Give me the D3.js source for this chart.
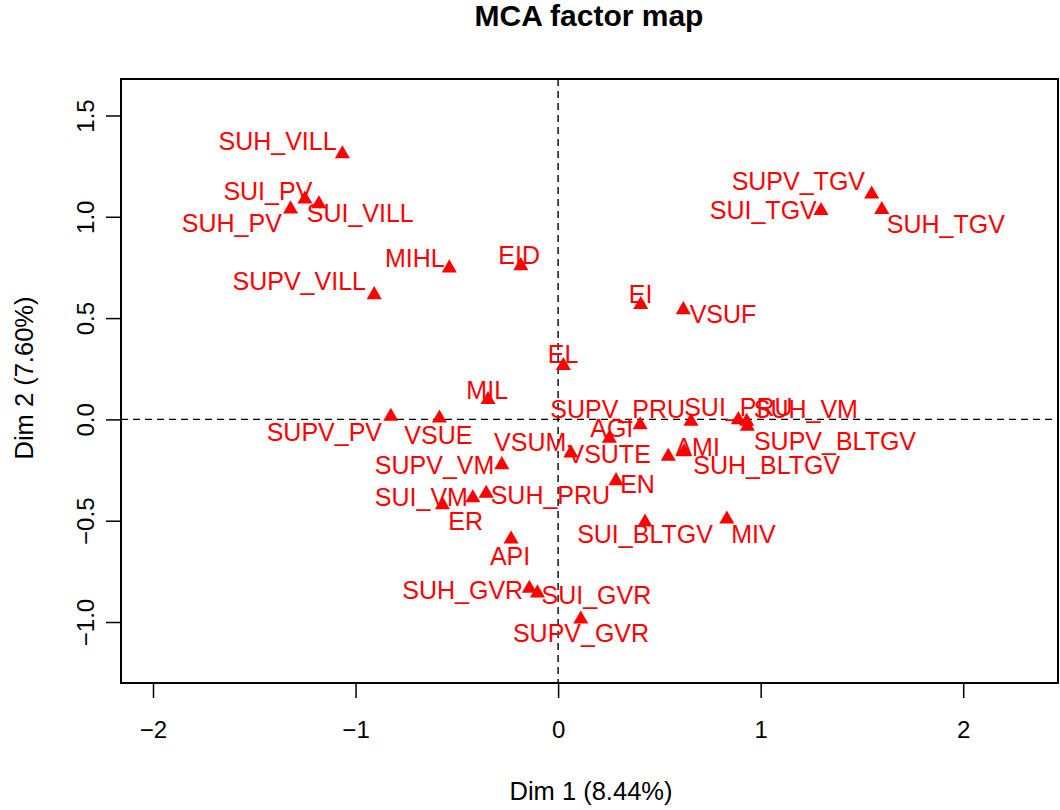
<!DOCTYPE html>
<html>
<head>
<meta charset="utf-8">
<script src="https://cdn.jsdelivr.net/npm/d3@7"></script>
<style>
  html, body { margin: 0; padding: 0; background: #fff; }
  svg { display: block; font-family: "Liberation Sans", Arial, Helvetica, sans-serif; }
</style>
</head>
<body>
<svg id="chart" width="1060" height="810"></svg>
<script>
// MCA category coordinates on the first two dimensions
const categories = [
  "SUH_VILL", "SUI_PV", "SUI_VILL", "SUH_PV", "SUPV_VILL", "MIHL", "EID", "EI", "VSUF", "EL",
  "MIL", "SUPV_PV", "VSUE", "SUPV_VM", "SUI_VM", "ER", "SUH_PRU", "API", "SUH_GVR", "SUI_GVR",
  "SUPV_GVR", "SUI_BLTGV", "VSUM", "AGI", "SUPV_PRU", "VSUTE", "AMI", "SUI_PRU", "SUH_BLTGV", "SUH_VM",
  "SUPV_BLTGV", "EN", "MIV", "SUPV_TGV", "SUI_TGV", "SUH_TGV"
];
const dim1 = [
  -1.065, -1.250, -1.181, -1.321, -0.908, -0.537, -0.184, 0.408, 0.618, 0.026,
  -0.346, -0.826, -0.586, -0.278, -0.571, -0.421, -0.355, -0.232, -0.142, -0.102,
  0.112, 0.429, 0.063, 0.253, 0.405, 0.544, 0.622, 0.656, 0.890, 0.931,
  0.934, 0.286, 0.833, 1.548, 1.298, 1.598
];
const dim2 = [
  1.310, 1.087, 1.063, 1.038, 0.615, 0.747, 0.758, 0.566, 0.541, 0.265,
  0.097, 0.015, 0.006, -0.224, -0.422, -0.388, -0.365, -0.591, -0.834, -0.857,
  -0.986, -0.507, -0.166, -0.094, -0.027, -0.183, -0.160, -0.010, -0.002, -0.010,
  -0.035, -0.303, -0.492, 1.112, 1.030, 1.035
];
// Label anchors (text centres) after overlap avoidance, in the same units
const labelDim1 = [
  -1.385, -1.433, -0.977, -1.611, -1.278, -0.707, -0.192, 0.407, 0.814, 0.025,
  -0.350, -1.154, -0.591, -0.610, -0.675, -0.456, -0.038, -0.237, -0.471, 0.189,
  0.113, 0.429, -0.138, 0.265, 0.294, 0.252, 0.689, 0.890, 1.030, 1.223,
  1.367, 0.392, 0.964, 1.186, 1.013, 1.914
];
const labelDim2 = [
  1.373, 1.127, 1.018, 0.971, 0.685, 0.796, 0.812, 0.618, 0.522, 0.324,
  0.147, -0.061, -0.076, -0.224, -0.384, -0.502, -0.372, -0.675, -0.844, -0.866,
  -1.054, -0.566, -0.112, -0.043, 0.052, -0.171, -0.135, 0.059, -0.226, 0.050,
  -0.105, -0.319, -0.566, 1.175, 1.031, 0.964
];

const xTicks = [-2, -1, 0, 1, 2];
const yTicks = [-1.0, -0.5, 0.0, 0.5, 1.0, 1.5];
const xDomain = [-2.158, 2.468];
const yDomain = [-1.301, 1.680];

const titleText = "MCA factor map";
const xTitle = "Dim 1 (8.44%)";
const yTitle = "Dim 2 (7.60%)";

const svg = d3.select("#chart");
const box = { left: 121, right: 1058, top: 79, bottom: 683 };

const x = d3.scaleLinear().domain(xDomain).range([box.left, box.right]);
const y = d3.scaleLinear().domain(yDomain).range([box.bottom, box.top]);

const points = categories.map((name, i) => ({
  name, d1: dim1[i], d2: dim2[i], l1: labelDim1[i], l2: labelDim2[i]
}));

// Reference lines through the origin
const refs = svg.append("g").attr("stroke", "#000").attr("stroke-width", 1.4)
  .attr("stroke-dasharray", "7,5").attr("fill", "none");
refs.append("line").attr("x1", box.left).attr("x2", box.right).attr("y1", y(0)).attr("y2", y(0));
refs.append("line").attr("x1", x(0)).attr("x2", x(0)).attr("y1", box.top).attr("y2", box.bottom);

// Axes
const xAxis = svg.append("g").attr("transform", `translate(0,${box.bottom})`)
  .call(d3.axisBottom(x).tickValues(xTicks).tickSize(15).tickPadding(22).tickFormat(d3.format("d")));
const yAxis = svg.append("g").attr("transform", `translate(${box.left},0)`)
  .call(d3.axisLeft(y).tickValues(yTicks).tickSize(15).tickPadding(0).tickFormat(d3.format(".1f")));
[xAxis, yAxis].forEach(g => {
  g.select(".domain").remove();
  g.selectAll(".tick line").attr("stroke", "#000").attr("stroke-width", 1.5);
  g.selectAll(".tick text").attr("fill", "#000").attr("font-size", 24)
    .attr("font-family", "Liberation Sans, Arial, sans-serif");
});
xAxis.selectAll(".tick text").attr("dy", null).attr("y", 55);
yAxis.selectAll(".tick text")
  .attr("x", null).attr("dy", null)
  .attr("text-anchor", "middle")
  .attr("transform", "translate(-27,0) rotate(-90)");

// Plot frame
svg.append("rect").attr("x", box.left).attr("y", box.top)
  .attr("width", box.right - box.left).attr("height", box.bottom - box.top)
  .attr("fill", "none").attr("stroke", "#000").attr("stroke-width", 2);

// Filled triangles (R pch 17 geometry)
const s = 5.6;
const tri = `M0,${-1.555 * s}L${1.347 * s},${0.778 * s}L${-1.347 * s},${0.778 * s}Z`;
svg.append("g").selectAll("path").data(points).join("path")
  .attr("d", tri)
  .attr("transform", d => `translate(${x(d.d1)},${y(d.d2)})`)
  .attr("fill", "#ff0000");

// Category labels
svg.append("g").selectAll("text").data(points).join("text")
  .attr("x", d => x(d.l1)).attr("y", d => y(d.l2))
  .attr("text-anchor", "middle").attr("dominant-baseline", "central")
  .attr("font-size", 25).attr("fill", "#ff0000")
  .text(d => d.name);

// Titles
svg.append("text").attr("x", 589).attr("y", 26).attr("text-anchor", "middle")
  .attr("font-size", 30).attr("font-weight", "bold").attr("fill", "#000").text(titleText);
svg.append("text").attr("x", 591).attr("y", 800).attr("text-anchor", "middle")
  .attr("font-size", 25.5).attr("fill", "#000").text(xTitle);
svg.append("text").attr("transform", "translate(33,378) rotate(-90)").attr("text-anchor", "middle")
  .attr("font-size", 25.5).attr("fill", "#000").text(yTitle);
</script>
</body>
</html>
